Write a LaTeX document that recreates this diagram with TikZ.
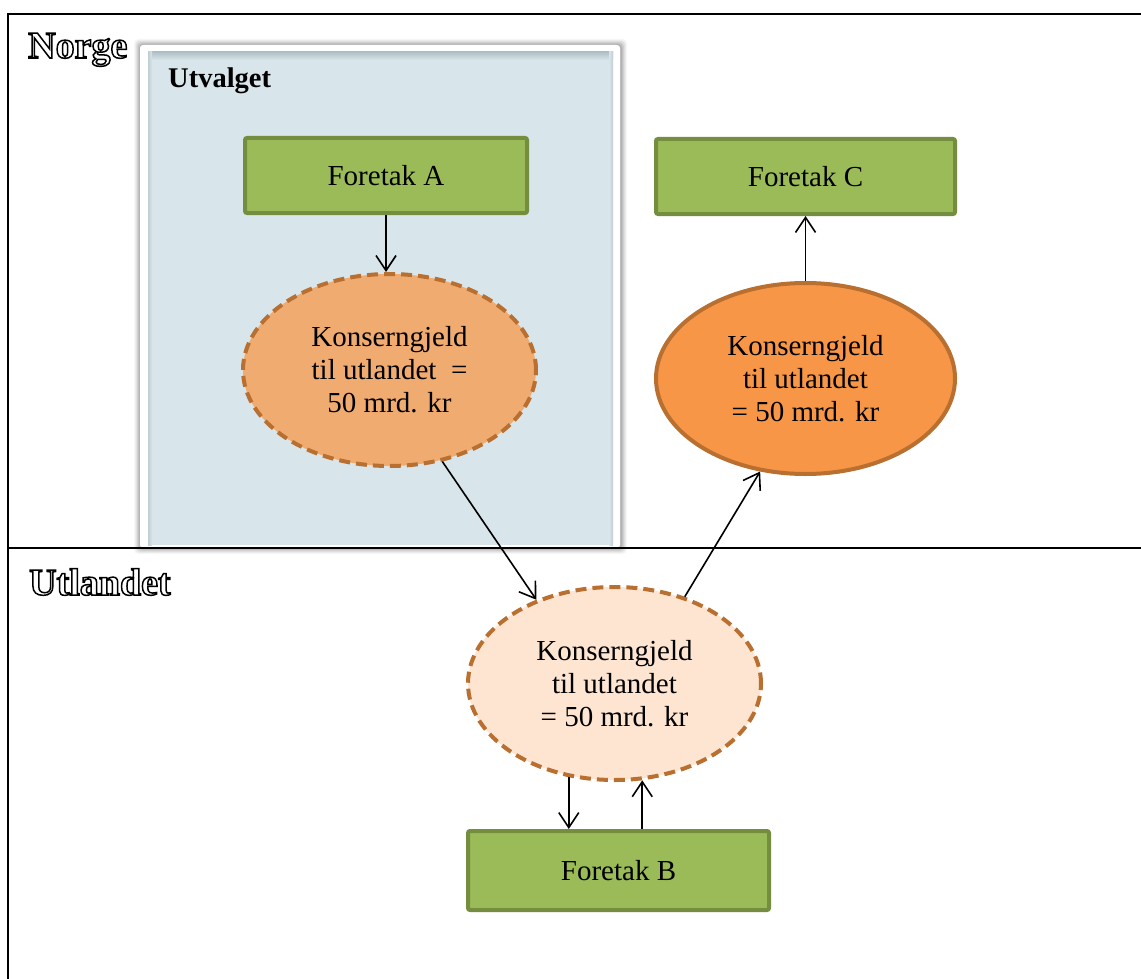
\documentclass[tikz,border=0pt]{standalone}
\usepackage{fontspec}
\setmainfont{Liberation Serif}
\usetikzlibrary{arrows.meta,shapes.geometric,calc}
\definecolor{boxfill}{HTML}{9BBB59}
\definecolor{boxline}{HTML}{748D3F}
\definecolor{ellA}{HTML}{F0AB70}
\definecolor{ellB}{HTML}{FDE5D2}
\definecolor{ellC}{HTML}{F79646}
\definecolor{ellline}{HTML}{B86F30}
\definecolor{panel}{HTML}{D8E5EA}
\definecolor{panelshade}{HTML}{AFC0C6}
\newcommand\hollowtxt[1]{{\color{white}\special{pdf:literal direct 2 Tr 1.5 w 0 G}#1\special{pdf:literal direct 0 Tr 1 w}}}
\begin{document}
\begin{tikzpicture}[x=1pt,y=-1pt,
  box/.style={draw=boxline,fill=boxfill,line width=4pt,rounded corners=2pt,minimum width=282pt,minimum height=75pt,inner sep=0pt,font=\fontsize{29}{33}\selectfont},
  ell/.style={ellipse,line width=4pt,draw=ellline,inner sep=0pt,align=center,font=\fontsize{29}{33}\selectfont},
  dashedell/.style={ell,dash pattern=on 11pt off 6pt},
  arr/.style={line width=1.6pt,-{Straight Barb[length=15pt,width=20pt]}},
  frameline/.style={line width=1.6pt},
  bigtitle/.style={anchor=base west,inner sep=0pt,font=\fontsize{38}{42}\selectfont\bfseries}]
\useasboundingbox (0,0) rectangle (1141,979);
\fill[white] (0,0) rectangle (1141,979);

% panel "Utvalget" with soft shadow
\foreach \i/\o in {6/0.03,5/0.04,4/0.05,3/0.06,2/0.07,1/0.08}
  \fill[black,opacity=\o,rounded corners=4pt] (140-\i,45-\i) rectangle (620+\i+1,548+\i);
\fill[white,rounded corners=3pt] (140,45) rectangle (620,548);
\fill[panel] (148,52) rectangle (613,545);
\shade[top color=panelshade,bottom color=panel] (148,52) rectangle (613,60);
\shade[left color=panelshade!60!panel,right color=panel] (148,52) rectangle (152,545);
\shade[left color=panel,right color=panelshade!60!panel] (609,52) rectangle (613,545);

% frame lines
\draw[frameline] (1141,14) -- (8,14) -- (8,979);
\draw[frameline] (8,548) -- (1141,548);

% hollow titles
\node[bigtitle] (norge) at (28,58) {\hollowtxt{Norge}};
\node[bigtitle] (utlandet) at (29,595) {\hollowtxt{Utlandet}};

% Utvalget label
\node[anchor=base west,inner sep=0pt,font=\fontsize{28.5}{31}\selectfont\bfseries] (utvalget) at (168,88) {Utvalget};

% nodes
\node[box] (fa) at (386,175.5) {Foretak A};
\node[box,minimum width=299pt] (fc) at (805.5,176.5) {Foretak C};
\node[box,minimum width=301pt,minimum height=79pt] (fb) at (618.5,870.5) {Foretak B};

\node[dashedell,fill=ellA,minimum width=293pt,minimum height=192pt] (ea) at (389.5,370)
  {Konserngjeld\\til utlandet \ =\\50 mrd. kr};
\node[ell,fill=ellC,minimum width=299pt,minimum height=191pt] (ec) at (805.5,378.5)
  {Konserngjeld\\til utlandet\\= 50 mrd. kr};
\node[dashedell,fill=ellB,minimum width=293pt,minimum height=193pt] (eb) at (614.5,683.5)
  {Konserngjeld\\til utlandet\\= 50 mrd. kr};

% connectors
\draw[arr] (fa.south) -- (fa.south |- ea.north);
\draw[arr] (ea.-60) -- (eb.133);
\draw[arr] (eb.51) -- (ec.244);
\draw[arr] (ec.north) -- (fc.south);
\draw[arr] (eb.244) -- (eb.244 |- fb.north);
\draw[arr] (eb.286 |- fb.north) -- (eb.286);
\end{tikzpicture}
\end{document}
